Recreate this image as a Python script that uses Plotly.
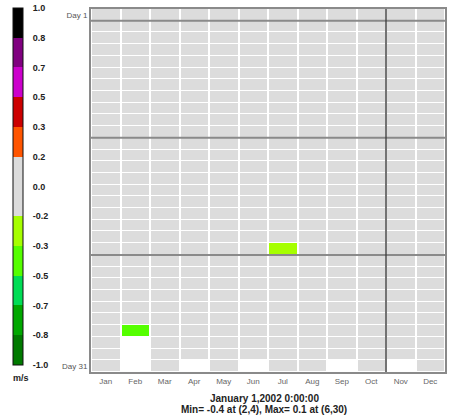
import plotly.graph_objects as go

# ---------------- data ----------------
month_labels = ["Jan", "Feb", "Mar", "Apr", "May", "Jun",
                "Jul", "Aug", "Sep", "Oct", "Nov", "Dec"]
day_numbers = list(range(1, 32))

jan = [0.0, 0.0, 0.0, 0.0, 0.0, 0.0, 0.0, 0.0, 0.0, 0.0, 0.0, 0.0, 0.0, 0.0, 0.0, 0.0,
       0.0, 0.0, 0.0, 0.0, 0.0, 0.0, 0.0, 0.0, 0.0, 0.0, 0.0, 0.0, 0.0, 0.0, 0.0]
feb = [0.0, 0.0, 0.0, 0.0, 0.0, 0.0, 0.0, 0.0, 0.0, 0.0, 0.0, 0.0, 0.0, 0.0, 0.0, 0.0,
       0.0, 0.0, 0.0, 0.0, 0.0, 0.0, 0.0, 0.0, 0.0, 0.0, 0.0, -0.4, None, None, None]
mar = [0.0, 0.0, 0.0, 0.0, 0.0, 0.0, 0.0, 0.0, 0.0, 0.0, 0.0, 0.0, 0.0, 0.0, 0.0, 0.0,
       0.0, 0.0, 0.0, 0.0, 0.0, 0.0, 0.0, 0.0, 0.0, 0.0, 0.0, 0.0, 0.0, 0.0, 0.0]
apr = [0.0, 0.0, 0.0, 0.0, 0.0, 0.0, 0.0, 0.0, 0.0, 0.0, 0.0, 0.0, 0.0, 0.0, 0.0, 0.0,
       0.0, 0.0, 0.0, 0.0, 0.0, 0.0, 0.0, 0.0, 0.0, 0.0, 0.0, 0.0, 0.0, 0.0, None]
may = [0.0, 0.0, 0.0, 0.0, 0.0, 0.0, 0.0, 0.0, 0.0, 0.0, 0.0, 0.0, 0.0, 0.0, 0.0, 0.0,
       0.0, 0.0, 0.0, 0.0, 0.0, 0.0, 0.0, 0.0, 0.0, 0.0, 0.0, 0.0, 0.0, 0.0, 0.0]
jun = [0.0, 0.0, 0.0, 0.0, 0.0, 0.0, 0.0, 0.0, 0.0, 0.0, 0.0, 0.0, 0.0, 0.0, 0.0, 0.0,
       0.0, 0.0, 0.0, 0.0, 0.0, 0.0, 0.0, 0.0, 0.0, 0.0, 0.0, 0.0, 0.0, 0.1, None]
jul = [0.0, 0.0, 0.0, 0.0, 0.0, 0.0, 0.0, 0.0, 0.0, 0.0, 0.0, 0.0, 0.0, 0.0, 0.0, 0.0,
       0.0, 0.0, 0.0, 0.0, -0.25, 0.0, 0.0, 0.0, 0.0, 0.0, 0.0, 0.0, 0.0, 0.0, 0.0]
aug = [0.0, 0.0, 0.0, 0.0, 0.0, 0.0, 0.0, 0.0, 0.0, 0.0, 0.0, 0.0, 0.0, 0.0, 0.0, 0.0,
       0.0, 0.0, 0.0, 0.0, 0.0, 0.0, 0.0, 0.0, 0.0, 0.0, 0.0, 0.0, 0.0, 0.0, 0.0]
sep = [0.0, 0.0, 0.0, 0.0, 0.0, 0.0, 0.0, 0.0, 0.0, 0.0, 0.0, 0.0, 0.0, 0.0, 0.0, 0.0,
       0.0, 0.0, 0.0, 0.0, 0.0, 0.0, 0.0, 0.0, 0.0, 0.0, 0.0, 0.0, 0.0, 0.0, None]
oct_ = [0.0, 0.0, 0.0, 0.0, 0.0, 0.0, 0.0, 0.0, 0.0, 0.0, 0.0, 0.0, 0.0, 0.0, 0.0, 0.0,
        0.0, 0.0, 0.0, 0.0, 0.0, 0.0, 0.0, 0.0, 0.0, 0.0, 0.0, 0.0, 0.0, 0.0, 0.0]
nov = [0.0, 0.0, 0.0, 0.0, 0.0, 0.0, 0.0, 0.0, 0.0, 0.0, 0.0, 0.0, 0.0, 0.0, 0.0, 0.0,
       0.0, 0.0, 0.0, 0.0, 0.0, 0.0, 0.0, 0.0, 0.0, 0.0, 0.0, 0.0, 0.0, 0.0, None]
dec = [0.0, 0.0, 0.0, 0.0, 0.0, 0.0, 0.0, 0.0, 0.0, 0.0, 0.0, 0.0, 0.0, 0.0, 0.0, 0.0,
       0.0, 0.0, 0.0, 0.0, 0.0, 0.0, 0.0, 0.0, 0.0, 0.0, 0.0, 0.0, 0.0, 0.0, 0.0]

# colour levels (bottom to top) and their labels
level_values = [-1.0, -5/6, -4/6, -3/6, -2/6, -1/6, 0.0, 1/6, 2/6, 3/6, 4/6, 5/6, 1.0]
level_labels = ["-1.0", "-0.8", "-0.7", "-0.5", "-0.3", "-0.2", "0.0",
                "0.2", "0.3", "0.5", "0.7", "0.8", "1.0"]
band_colors = ["#007a00", "#00a800", "#00dd55", "#55ff00", "#a6ff00", "#dcdcdc",
               "#dcdcdc", "#ff5500", "#cc0000", "#cc00cc", "#800080", "#000000"]
unit_label = "m/s"

marked_days = [1, 11, 21]      # reference lines drawn below these days
marked_month = 10              # reference line drawn after this month

title_line = "January 1,2002 0:00:00"
minmax_line = "Min= -0.4 at (2,4), Max= 0.1 at (6,30)"

# ---------------- build ----------------
month_values = [jan, feb, mar, apr, may, jun, jul, aug, sep, oct_, nov, dec]
z = [[m[d] for m in month_values] for d in range(len(day_numbers))]
x = list(range(1, len(month_labels) + 1))

colorscale = []
n = len(band_colors)
for i, c in enumerate(band_colors):
    colorscale.append([i / n, c])
    colorscale.append([(i + 1) / n, c])

PLOT_W = 455 - 91 - 10
PLOT_H = 417 - 9 - 45

fig = go.Figure(go.Heatmap(
    z=z, x=x, y=day_numbers,
    zmin=-1, zmax=1,
    colorscale=colorscale,
    xgap=2, ygap=1,
    hoverongaps=False,
    colorbar=dict(
        x=(13 - 91) / PLOT_W, xanchor="left", xref="paper",
        y=(372 - 8) / PLOT_H, yanchor="top",
        lenmode="pixels", len=357,
        thickness=10, xpad=0, ypad=0,
        outlinewidth=1, outlinecolor="#111",
        tickvals=level_values, ticktext=level_labels,
        ticks="outside", ticklen=8, tickcolor="rgba(0,0,0,0)",
        tickfont=dict(family="Liberation Sans", size=9, color="#222", weight="bold"),
    ),
))

line_shapes = []
for d in marked_days:
    line_shapes.append(dict(type="line", xref="x", yref="y",
                            x0=0.5, x1=len(month_labels) + 0.5, y0=d + 0.5, y1=d + 0.5,
                            line=dict(color="#8a8a8a", width=2), layer="above"))
line_shapes.append(dict(type="line", xref="x", yref="y",
                        x0=marked_month + 0.5, x1=marked_month + 0.5,
                        y0=0.5, y1=len(day_numbers) + 0.5,
                        line=dict(color="#444", width=1.5), layer="above"))

fig.update_layout(
    width=455, height=417,
    margin=dict(l=91, r=10, t=9, b=45, autoexpand=False),
    paper_bgcolor="white", plot_bgcolor="white",
    shapes=line_shapes,
    xaxis=dict(
        range=[0.5, len(month_labels) + 0.5], automargin=False,
        tickvals=x, ticktext=month_labels,
        ticks="", showgrid=False, zeroline=False,
        showline=True, mirror=True, linecolor="#8a8a8a", linewidth=2,
        tickfont=dict(family="Liberation Sans", size=8, color="#666"),
    ),
    yaxis=dict(
        range=[len(day_numbers) + 0.5, 0.5], automargin=False,
        tickvals=[day_numbers[0], day_numbers[-1]],
        ticktext=["Day %d" % day_numbers[0], "Day %d" % day_numbers[-1]],
        ticks="", showgrid=False, zeroline=False,
        showline=True, mirror=True, linecolor="#8a8a8a", linewidth=2,
        tickfont=dict(family="Liberation Sans", size=8, color="#555"),
    ),
    annotations=[
        dict(text=unit_label, xref="paper", yref="paper",
             x=(21 - 91) / PLOT_W, y=-(378 - 372) / PLOT_H,
             xanchor="center", yanchor="middle", showarrow=False,
             font=dict(family="Liberation Sans", size=9, color="#222", weight="bold")),
        dict(text=title_line, xref="paper", yref="paper", x=0.49, y=-(398 - 372) / PLOT_H,
             xanchor="center", yanchor="middle", showarrow=False,
             font=dict(family="Liberation Sans", size=10, color="#222", weight="bold")),
        dict(text=minmax_line, xref="paper", yref="paper", x=0.49, y=-(409 - 372) / PLOT_H,
             xanchor="center", yanchor="middle", showarrow=False,
             font=dict(family="Liberation Sans", size=10, color="#222", weight="bold")),
    ],
)

fig.write_html(
    "out.html",
    config={"displayModeBar": False},
    post_script="document.body.style.margin='0';document.body.style.overflow='hidden';",
)
